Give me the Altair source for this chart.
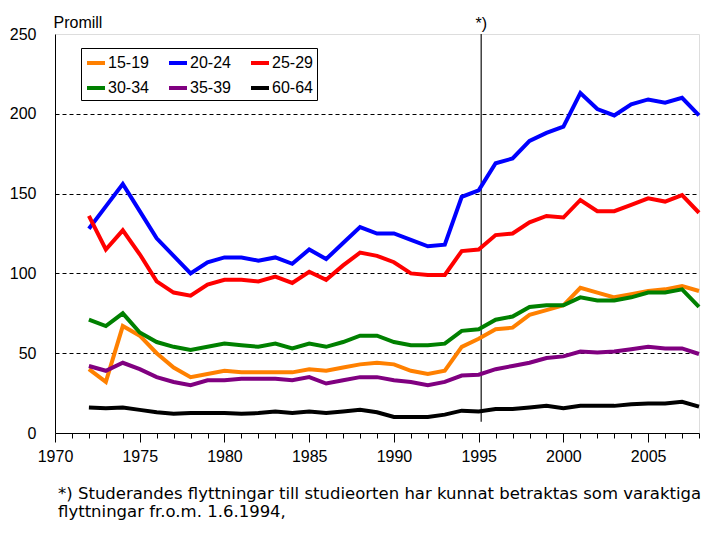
import altair as alt
import pandas as pd

years = list(range(1972, 2009))

s15_19 = [40, 32, 67, 61, 50, 41, 35, 37, 39, 38, 38, 38, 38, 40, 39, 41, 43, 44, 43, 39,
          37, 39, 54, 59, 65, 66, 74, 77, 80, 91, 88, 85, 87, 89, 90, 92, 89]
s20_24 = [128, 142, 156, 139, 122, 111, 100, 107, 110, 110, 108, 110, 106, 115, 109, 119, 129, 125, 125, 121,
          117, 118, 148, 152, 169, 172, 183, 188, 192, 213, 203, 199, 206, 209, 207, 210, 199]
s25_29 = [136, 115, 127, 112, 95, 88, 86, 93, 96, 96, 95, 98, 94, 101, 96, 105, 113, 111, 107, 100,
          99, 99, 114, 115, 124, 125, 132, 136, 135, 146, 139, 139, 143, 147, 145, 149, 138]
s30_34 = [71, 67, 75, 63, 57, 54, 52, 54, 56, 55, 54, 56, 53, 56, 54, 57, 61, 61, 57, 55,
          55, 56, 64, 65, 71, 73, 79, 80, 80, 85, 83, 83, 85, 88, 88, 90, 79]
s35_39 = [42, 39, 44, 40, 35, 32, 30, 33, 33, 34, 34, 34, 33, 35, 31, 33, 35, 35, 33, 32,
          30, 32, 36, 36.5, 40, 42, 44, 47, 48, 51, 50.5, 51, 52.5, 54, 53, 53, 49.5]
s60_64 = [16, 15.5, 16, 14.5, 13, 12, 12.5, 12.5, 12.5, 12, 12.5, 13.5, 12.5, 13.5, 12.5, 13.5, 14.5, 13, 10, 10,
          10, 11.5, 14, 13.5, 15, 15, 16, 17, 15.5, 17, 17, 17, 18, 18.5, 18.5, 19.5, 16.5]

series_names = ["15-19", "20-24", "25-29", "30-34", "35-39", "60-64"]
series_colors = ["#FF8000", "#0000FF", "#FF0000", "#008000", "#800080", "#000000"]
series_values = [s15_19, s20_24, s25_29, s30_34, s35_39, s60_64]

x_ticks = list(range(1970, 2009))
y_ticks = [0, 50, 100, 150, 200, 250]

marker_year = [1995.15]
marker_top = [250]
marker_bottom = [7]
marker_note = ["*)"]

footnote = ["*) Studerandes flyttningar till studieorten har kunnat betraktas som varaktiga",
            "flyttningar fr.o.m. 1.6.1994,"]

rows = []
for name, vals in zip(series_names, series_values):
    for yr, v in zip(years, vals):
        rows.append({"year": yr, "value": v, "group": name})
df = pd.DataFrame(rows)

marker_df = pd.DataFrame({"year": marker_year, "value": marker_top,
                          "value2": marker_bottom, "note": marker_note})

FONT = "Liberation Sans"

x_scale = alt.Scale(domain=[1970, 2008], nice=False, zero=False)
y_scale = alt.Scale(domain=[0, 250], nice=False)

x_axis = alt.Axis(
    values=x_ticks, format="d", title=None, grid=False,
    labelExpr="datum.value % 5 === 0 ? datum.label : ''",
    tickSize={"condition": {"test": "datum.value % 5 === 0", "value": 9}, "value": 5},
    tickColor="black", domainColor="black", labelColor="black",
    labelFont=FONT, labelFontSize=16, labelPadding=6, labelFlush=False,
)
y_axis = alt.Axis(
    values=y_ticks, title="Promill", titleAngle=0, titleX=-2, titleY=-7,
    titleAlign="left", titleBaseline="alphabetic", titleFont=FONT, titleFontSize=16,
    titleFontWeight="normal", titleColor="black",
    ticks=False, labelPadding=19, labelFont=FONT, labelFontSize=16, labelColor="black",
    grid=True, gridColor="black", gridDash=[4, 3], gridWidth=1,
    gridOpacity={"condition": {"test": "datum.value > 0 && datum.value < 250", "value": 1}, "value": 0},
    domainColor="black",
)

X = alt.X("year:Q", scale=x_scale, axis=x_axis)
Y = alt.Y("value:Q", scale=y_scale, axis=y_axis)

nbsp = "\u00a0" * 8
legend = alt.Legend(
    title=None, orient="none", legendX=26, legendY=14, columns=3, direction="horizontal",
    symbolType="stroke", symbolSize=324, symbolStrokeWidth=4,
    labelFont=FONT, labelFontSize=16, labelColor="black", labelOffset=1,
    labelExpr="datum.label == '25-29' || datum.label == '60-64' ? datum.label + '" + nbsp + "' : datum.label",
    columnPadding=12, rowPadding=6, padding=4, strokeColor="black", fillColor="white",
)

lines = alt.Chart(df).mark_line(strokeWidth=4).encode(
    x=X, y=Y,
    color=alt.Color("group:N", scale=alt.Scale(domain=series_names, range=series_colors),
                    legend=legend),
)

rule = alt.Chart(marker_df).mark_rule(color="#404040", strokeWidth=1.5).encode(
    x=X, y=Y, y2="value2:Q"
)

note = alt.Chart(marker_df).mark_text(font=FONT, fontSize=16, baseline="alphabetic",
                                      align="center", dy=-5, color="black").encode(
    x=X, y=Y, text="note:N"
)

chart = alt.layer(rule, lines, note).properties(
    width=644, height=399,
    autosize=alt.AutoSizeParams(type="none"),
    padding={"left": 47, "top": 26, "right": 10, "bottom": 90},
    title=alt.TitleParams(text=footnote, orient="bottom", anchor="start", frame="group",
                          font="DejaVu Sans", fontSize=16.5, fontWeight="normal", color="black",
                          offset=22, dx=3, lineHeight=18),
).configure_view(stroke="#333333", strokeWidth=1.5).configure(background="white")

chart.save("out.html", embed_options={"renderer": "svg", "actions": False})
